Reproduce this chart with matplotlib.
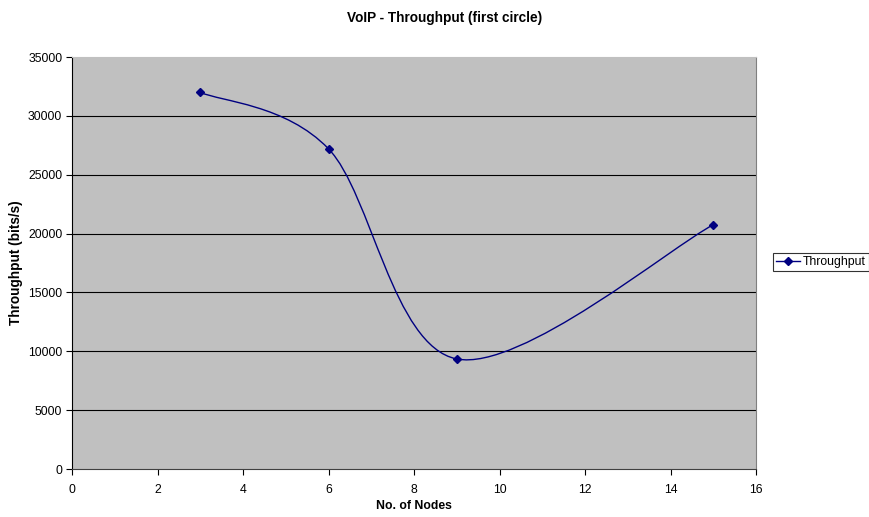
import numpy as np
from matplotlib import pyplot as plt
from matplotlib.path import Path
from matplotlib.patches import PathPatch

plt.rcParams['font.family'] = ['Liberation Sans', 'DejaVu Sans']

nodes = [3, 6, 9, 15]
throughput = [32000, 27200, 9350, 20750]

x_ticks = [0, 2, 4, 6, 8, 10, 12, 14, 16]
y_ticks = [0, 5000, 10000, 15000, 20000, 25000, 30000, 35000]


def smooth_path(ax, xs, ys):
    # Bezier smoothing done in screen space, then mapped back to data
    pts = ax.transData.transform(np.column_stack([xs, ys]))
    n = len(pts)
    verts = [pts[0]]
    codes = [Path.MOVETO]
    for i in range(n - 1):
        p0 = pts[max(i - 1, 0)]
        p1 = pts[i]
        p2 = pts[i + 1]
        p3 = pts[min(i + 2, n - 1)]
        c1 = p1 + (p2 - p0) / 6.0
        c2 = p2 - (p3 - p1) / 6.0
        verts += [c1, c2, p2]
        codes += [Path.CURVE4] * 3
    verts = ax.transData.inverted().transform(np.array(verts))
    return Path(verts, codes)


fig = plt.figure(figsize=(8.7, 5.17), dpi=100)
ax = fig.add_axes([0.0828, 0.0928, 0.7862, 0.7969])
ax.set_facecolor('#C0C0C0')

ax.set_xlim(0, 16)
ax.set_ylim(0, 35000)
ax.set_xticks(x_ticks)
ax.set_yticks(y_ticks)
ax.tick_params(axis='both', labelsize=8.8, direction='out', length=4, width=0.8, color='black')
ax.tick_params(axis='x', pad=7)
ax.tick_params(axis='y', pad=3)

for y in y_ticks[1:-1]:
    ax.axhline(y, color='black', linewidth=0.8, zorder=1)

ax.spines['left'].set_color('black')
ax.spines['bottom'].set_color('#404040')
ax.spines['right'].set_color('#808080')
ax.spines['top'].set_color('#C0C0C0')

fig.canvas.draw()
patch = PathPatch(smooth_path(ax, nodes, throughput), facecolor='none',
                  edgecolor='#000080', linewidth=1.0, zorder=3)
ax.add_patch(patch)
ax.plot(nodes, throughput, linestyle='none', marker='D', markersize=4,
        color='#000080', zorder=4)

legend_line, = ax.plot([], [], color='#000080', marker='D', markersize=4,
                       linewidth=1.0, label='Throughput')
leg = fig.legend(handles=[legend_line], loc='center left',
                 bbox_to_anchor=(0.888, 0.493), fontsize=8.8, frameon=True,
                 fancybox=False, handlelength=2.0, borderpad=0.25,
                 handletextpad=0.25, borderaxespad=0)
leg.get_frame().set_edgecolor('black')
leg.get_frame().set_linewidth(0.8)

fig.suptitle('VoIP - Throughput (first circle)', x=0.511, y=0.978,
             fontsize=9.8, fontweight='bold')
ax.set_xlabel('No. of Nodes', fontsize=8.8, fontweight='bold', labelpad=3)
ax.set_ylabel('Throughput (bits/s)', fontsize=9.8, fontweight='bold', labelpad=4)

fig.savefig('out.png', dpi=100)
